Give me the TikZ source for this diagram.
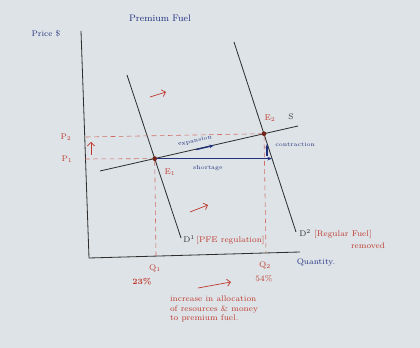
\documentclass[tikz,border=0pt]{standalone}
\usetikzlibrary{arrows.meta}
\definecolor{paper}{HTML}{DDE3E7}
\definecolor{ink}{HTML}{2E2E2E}
\definecolor{redink}{HTML}{C0392E}
\definecolor{blueink}{HTML}{22307E}
\tikzset{
  curve/.style={ink, line width=0.7pt},
  guide/.style={redink!75, dashed, dash pattern=on 4pt off 3pt, line width=0.5pt},
  redlbl/.style={text=redink, font=\scriptsize, inner sep=1pt},
  bluelbl/.style={text=blueink, font=\scriptsize, inner sep=1pt},
  smalllbl/.style={text=blueink, font=\tiny, inner sep=1pt},
  shiftarrow/.style={redink, line width=0.6pt, -{Straight Barb[length=3pt]}},
  movearrow/.style={blueink, line width=1.1pt, -{Stealth[length=4pt]}},
  eqdot/.style={circle, fill=redink!60!black, inner sep=0pt, minimum size=4pt}
}
\begin{document}
\begin{tikzpicture}[x=0.03cm, y=-0.03cm]
  \fill[paper] (0,0) rectangle (420,348);
  \useasboundingbox (0,0) rectangle (420,348);
  % axes
  \coordinate (ytop) at (81,31);
  \coordinate (O) at (89,258);
  \coordinate (xend) at (300,252);
  \draw[curve] (ytop) -- (O) -- (xend);
  \node[bluelbl] (price) at (46,34) {Price \$};
  \node[bluelbl] (qty) at (316,262) {Quantity.};
  \node[bluelbl, font=\footnotesize] (title) at (160,18) {Premium Fuel};
  % demand and supply
  \coordinate (d1top) at (127,75);
  \coordinate (d1end) at (181,238);
  \coordinate (d2top) at (234,42);
  \coordinate (d2end) at (296,232);
  \coordinate (sleft) at (100,171);
  \coordinate (sright) at (298,126);
  \draw[curve] (d1top) -- (d1end);
  \draw[curve] (d2top) -- (d2end);
  \draw[curve] (sleft) -- (sright);
  \node[eqdot] (E1) at (154.7,158.6) {};
  \node[eqdot] (E2) at (264,133.7) {};
  % guides to the axes
  \coordinate (p1) at (85,159);
  \coordinate (p2) at (86,137);
  \coordinate (q1) at (156,256);
  \coordinate (q2) at (266,253);
  \draw[guide] (p2) -- (E2);
  \draw[guide] (p1) -- (E1);
  \draw[guide] (E1) -- (q1);
  \draw[guide] (E2) -- (q2);
  \node[redlbl] (P2) at (66,137) {P$_2$};
  \node[redlbl] (P1) at (67,159) {P$_1$};
  \node[redlbl] (Q1) at (155,268) {Q$_1$};
  \node[redlbl] (Q2) at (265,265) {Q$_2$};
  \node[redlbl, font=\scriptsize\bfseries] (pc1) at (142,282) {23\%};
  \node[redlbl] (pc2) at (264,279) {54\%};
  \node[redlbl] (E1lbl) at (170,172) {E$_1$};
  \node[redlbl] (E2lbl) at (270,118) {E$_2$};
  \node[text=ink, font=\scriptsize] (Slbl) at (291,117) {S};
  % labels of the demand curves
  \node[redlbl, anchor=west] (D1lbl) at (182,240) {\textcolor{ink}{D$^1$}\,[PFE regulation]};
  \node[redlbl, anchor=west] (D2lbl) at (298,234) {\textcolor{ink}{D$^2$}\ [Regular Fuel]};
  \node[redlbl] (removed) at (368,246) {removed};
  % movements
  \coordinate (sh) at (272,158.6);
  \coordinate (ex1) at (196,149.6);
  \coordinate (ex2) at (214,145.4);
  \coordinate (ct1) at (267,156);
  \coordinate (ct2) at (267,144);
  \draw[movearrow] (E1) -- (sh);
  \draw[movearrow] (ex1) -- (ex2);
  \draw[blueink, line width=0.9pt, -{Stealth[length=3.5pt]}] (ct1) -- (ct2);
  \node[smalllbl, rotate=12] (exp) at (195,141) {expansion};
  \node[smalllbl] (short) at (208,168) {shortage};
  \node[smalllbl, anchor=west] (contr) at (274,145) {contraction};
  % shift arrows
  \draw[redink, line width=0.6pt, -{Straight Barb[length=3pt]}] (91,155) -- (91,142);
  \draw[shiftarrow] (150,97) -- (166,92);
  \draw[shiftarrow] (190,212) -- (208,205);
  \draw[shiftarrow] (198,288) -- (231,282);
  \node[redlbl, align=left] (note) at (214,309) {increase in allocation\\of resources \& money\\to premium fuel.};
\end{tikzpicture}
\end{document}
